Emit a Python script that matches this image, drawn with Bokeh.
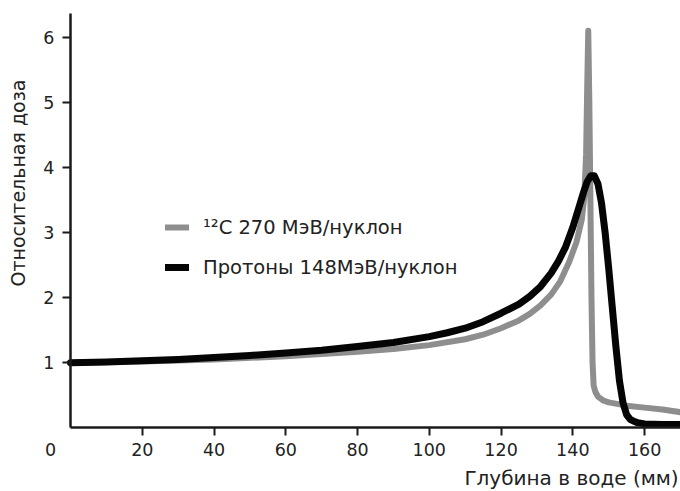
from math import pi
from bokeh.plotting import figure
from bokeh.models import Range1d, FixedTicker, Label, Legend, LegendItem
from bokeh.embed import file_html
from bokeh.resources import INLINE

# Protons 148 MeV/nucleon (black)
depth_p = [0, 10, 20, 30, 40, 50, 60, 70, 80, 90, 100, 105, 110, 115, 120, 125, 128, 131,
           134, 136, 138, 140, 141.5, 143, 144, 145, 146, 147, 148, 149, 150, 151, 152, 153,
           154, 155, 156, 157, 158, 160, 165, 170]
dose_p = [1.00, 1.01, 1.03, 1.05, 1.08, 1.11, 1.15, 1.19, 1.25, 1.31, 1.40, 1.46, 1.53, 1.63,
          1.76, 1.90, 2.02, 2.17, 2.38, 2.56, 2.78, 3.08, 3.35, 3.62, 3.78, 3.87, 3.87, 3.75,
          3.45, 3.00, 2.45, 1.85, 1.25, 0.72, 0.38, 0.20, 0.13, 0.10, 0.08, 0.06, 0.05, 0.05]

# Carbon-12 270 MeV/nucleon (grey)
depth_c = [0, 20, 40, 60, 80, 90, 100, 110, 115, 120, 125, 128, 131, 134, 136.5, 139, 141,
           142.5, 143.2, 143.7, 144.0, 144.3, 144.6, 144.9, 145.2, 145.5, 145.8, 146.3, 147,
           148.5, 150, 155, 160, 165, 170]
dose_c = [1.00, 1.02, 1.05, 1.10, 1.17, 1.21, 1.27, 1.36, 1.43, 1.53, 1.65, 1.75, 1.88, 2.05,
          2.25, 2.55, 2.85, 3.20, 3.55, 4.20, 5.20, 6.10, 5.00, 3.50, 2.00, 1.00, 0.65, 0.55,
          0.48, 0.42, 0.39, 0.34, 0.31, 0.28, 0.24]

x_ticks = [20, 40, 60, 80, 100, 120, 140, 160]
y_ticks = [1, 2, 3, 4, 5, 6]
x_axis_extent = (0, 170)
y_axis_extent = (0, 6.36)
legend_labels = ["¹²C 270 МэВ/нуклон", "Протоны 148МэВ/нуклон"]
x_title = "Глубина в воде (мм)"
y_title = "Относительная доза"
origin_label = "0"

FONT = "DejaVu Sans"
TXT = "#222222"

p = figure(width=680, height=491, output_backend="svg", toolbar_location=None,
           x_range=Range1d(-19.51, 170.01), y_range=Range1d(-0.9785, 6.564),
           min_border_left=0, min_border_right=0, min_border_top=0, min_border_bottom=0)
p.outline_line_color = None
p.grid.visible = False
p.background_fill_color = "white"
p.border_fill_color = "white"

for ax, ticks, bounds in ((p.xaxis, x_ticks, x_axis_extent), (p.yaxis, y_ticks, y_axis_extent)):
    ax.fixed_location = 0
    ax.bounds = bounds
    ax.ticker = FixedTicker(ticks=ticks)
    ax.axis_line_color = "#1a1a1a"
    ax.axis_line_width = 2.5
    ax.major_tick_line_color = "#1a1a1a"
    ax.major_tick_line_width = 2
    ax.major_tick_out = 8
    ax.major_tick_in = 0
    ax.minor_tick_line_color = None
    ax.major_label_text_font = FONT
    ax.major_label_text_font_size = "17.5px"
    ax.major_label_text_color = TXT
p.xaxis.major_label_standoff = 7
p.yaxis.major_label_standoff = 8

rc = p.line(depth_c, dose_c, line_color="#8e8e8e", line_width=6, line_join="round", line_cap="round")
rp = p.line(depth_p, dose_p, line_color="#050505", line_width=7, line_join="round", line_cap="round")

legend = Legend(items=[LegendItem(label=legend_labels[0], renderers=[rc]),
                       LegendItem(label=legend_labels[1], renderers=[rp])],
                location=(165, 212))
legend.background_fill_alpha = 0
legend.border_line_color = None
legend.padding = 0
legend.margin = 0
legend.spacing = 16
legend.glyph_width = 24
legend.glyph_height = 24
legend.label_height = 24
legend.label_standoff = 14
legend.label_text_font = FONT
legend.label_text_font_size = "19.5px"
legend.label_text_color = TXT
p.add_layout(legend)

p.add_layout(Label(x=-5.57, y=-0.34, text=origin_label, text_align="center",
                   text_baseline="alphabetic", text_font=FONT, text_font_size="17.5px",
                   text_color=TXT))
p.add_layout(Label(x=169.5, y=-0.778, text=x_title, text_align="right",
                   text_baseline="alphabetic", text_font=FONT, text_font_size="20px",
                   text_color=TXT))
p.add_layout(Label(x=-14.6, y=3.76, text=y_title, angle=pi / 2, text_align="center",
                   text_baseline="middle", text_font=FONT, text_font_size="19px",
                   text_color=TXT))

open("out.html", "w").write(file_html(p, INLINE))
